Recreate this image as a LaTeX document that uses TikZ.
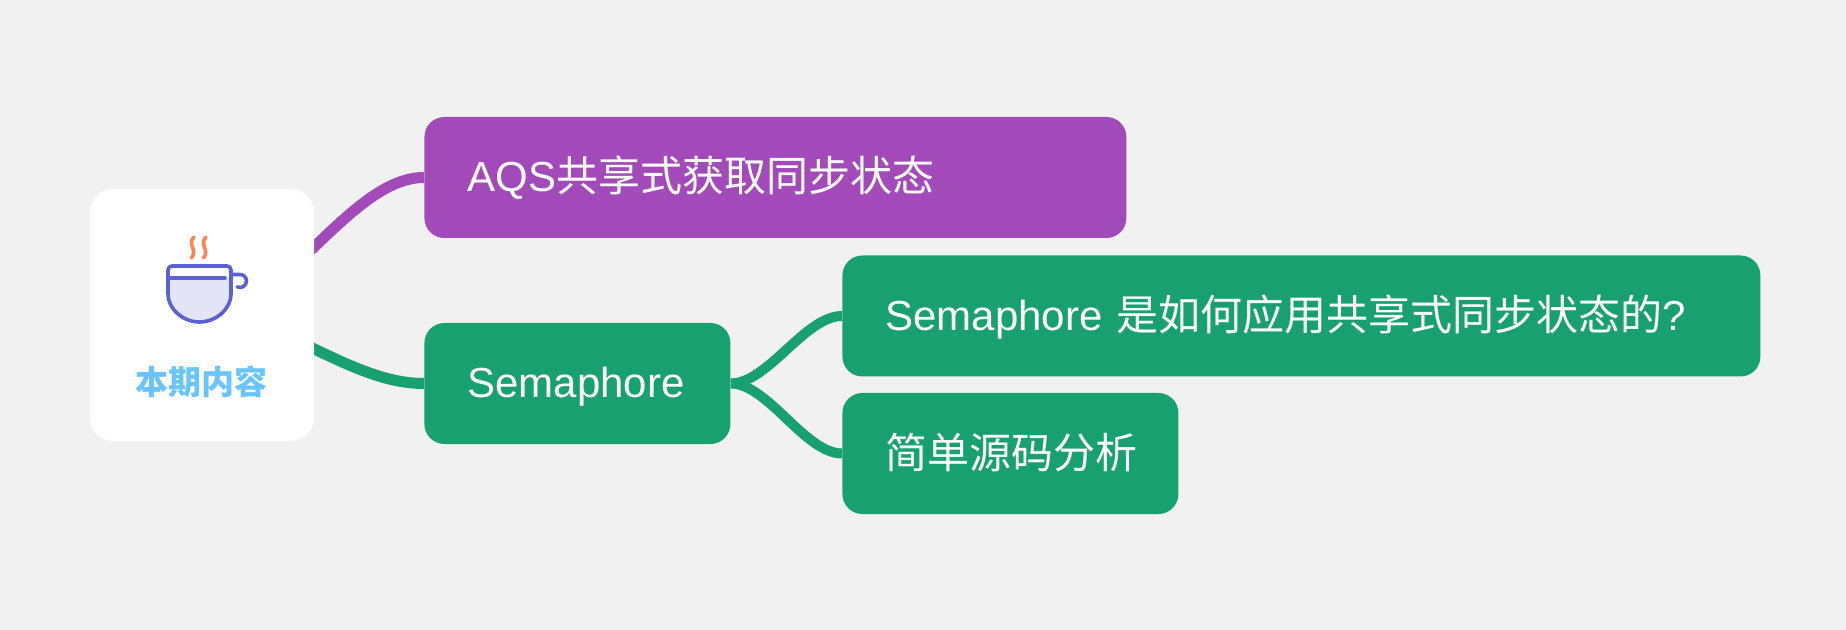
\documentclass[tikz,border=0pt]{standalone}
\usepackage{fontspec}
\setmainfont{Liberation Sans}
\newfontfamily\cjk{Noto Sans CJK SC}
\usepackage{tikz}
\definecolor{bggray}{HTML}{F1F1F1}
\definecolor{aqspurple}{HTML}{A24ABA}
\definecolor{semagreen}{HTML}{18A070}
\definecolor{titleblue}{HTML}{6CC4FF}
\definecolor{cupblue}{HTML}{5B60D3}
\definecolor{cupfill}{HTML}{E4E4F7}
\definecolor{steamorange}{HTML}{FF8450}
\pgfdeclarelayer{canvas}
\pgfdeclarelayer{links}
\pgfsetlayers{canvas,links,main}

\begin{document}
\begin{tikzpicture}[line cap=round,line join=round,x=0.5pt,y=0.5pt,
    rootbox/.style={fill=white,rounded corners=11.5pt,minimum width=112pt,minimum height=126pt,inner sep=0pt},
    topic/.style={anchor=west,text=white,rounded corners=10pt,minimum height=60.5pt,inner xsep=21.5pt,inner ysep=0pt,
      align=left,text width=#1,text height=14.5pt,text depth=0pt,font=\fontsize{21pt}{25pt}\selectfont},
    link/.style={line width=5.5pt},
    sublink/.style={line width=5pt},
    cupline/.style={cupblue,line width=1.8pt},
    steam/.style={steamorange,line width=1.8pt}]
        \begin{pgfonlayer}{canvas}
          \fill[bggray] (0,0) rectangle (1846,-630);
        \end{pgfonlayer}
        \useasboundingbox (0,0) rectangle (1846,-630);
        \node[rootbox] (root) at (202,-315) {};
        \node[topic=308pt,fill=aqspurple] (aqs) at (424,-177.5) {AQS{\cjk 共享式获取同步状态}};
        \node[topic=110pt,fill=semagreen] (sema) at (424,-383.5) {Semaphore};
        \node[topic=416pt,fill=semagreen] (how) at (842,-316) {Semaphore {\cjk 是如何应用共享式同步状态的}?};
        \node[topic=125pt,fill=semagreen] (src) at (842,-453.5) {{\cjk 简单源码分析}};
        % cup icon
        \fill[cupfill] (168,-278) -- (168,-290.5) arc[start angle=180,end angle=360,radius=31.5] -- (231,-278) -- cycle;
        \draw[cupline,rounded corners=2pt] (168,-290.5) arc[start angle=180,end angle=360,radius=31.5] -- (231,-266) -- (168,-266) -- cycle;
        \draw[cupline] (168,-278) -- (225,-278);
        \draw[cupline] (231,-274.5) -- (240,-274.5) arc[start angle=90,end angle=-115,radius=6.5];
        \draw[steam] (194,-237) .. controls (187,-244) and (198,-251) .. (191.5,-258);
        \draw[steam] (206,-237) .. controls (199,-244) and (210,-251) .. (203.5,-258);
        \node[anchor=base,text=titleblue,font=\cjk\bfseries\fontsize{16.5pt}{20pt}\selectfont] (title) at (201.5,-394) {本期内容};
        \begin{pgfonlayer}{links}
          \draw[link,aqspurple] (root.center) .. controls +(80,0) and +(-75,0) .. (aqs.west);
          \draw[link,semagreen] (root.center) .. controls +(80,0) and +(-75,0) .. (sema.west);
          \draw[sublink,semagreen] (sema.east) .. controls +(37,0) and +(-37,0) .. (how.west);
          \draw[sublink,semagreen] (sema.east) .. controls +(37,0) and +(-37,0) .. (src.west);
        \end{pgfonlayer}
      \end{tikzpicture}
\end{document}
